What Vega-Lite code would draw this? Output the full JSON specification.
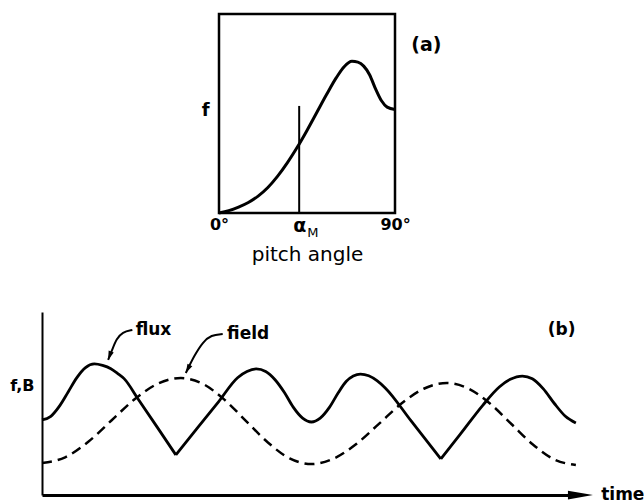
{
  "$schema": "https://vega.github.io/schema/vega-lite/v6.json",
  "padding": {"left": 9, "top": 12, "right": 2, "bottom": 5},
  "background": "white",
  "config": {"font": "DejaVu Sans", "axis": {"grid": false}},
  "center": true,
  "bounds": "flush",
  "spacing": 99,
  "datasets": {
    "pitch": [
      {"angle": 0, "f": 0}, {"angle": 5, "f": 0.012}, {"angle": 10, "f": 0.03}, {"angle": 15, "f": 0.053},
      {"angle": 20, "f": 0.085}, {"angle": 25, "f": 0.128}, {"angle": 30, "f": 0.185}, {"angle": 35, "f": 0.253},
      {"angle": 40, "f": 0.33}, {"angle": 45, "f": 0.415}, {"angle": 50, "f": 0.505}, {"angle": 55, "f": 0.595},
      {"angle": 60, "f": 0.68}, {"angle": 64, "f": 0.735}, {"angle": 68, "f": 0.762}, {"angle": 71, "f": 0.758},
      {"angle": 74, "f": 0.738}, {"angle": 77, "f": 0.695}, {"angle": 80, "f": 0.625}, {"angle": 83, "f": 0.565},
      {"angle": 86, "f": 0.532}, {"angle": 90, "f": 0.52}
    ],
    "alphaM": [{"angle": 41, "f": 0, "f2": 0.538}],
    "panelA": [{"angle": 106, "f": 0.844, "label": "(a)"}],
    "flux": [
      {"t": 0, "f": 0.41, "seg": 1}, {"t": 1.6, "f": 0.43, "seg": 1}, {"t": 3.2, "f": 0.487, "seg": 1},
      {"t": 4.75, "f": 0.563, "seg": 1}, {"t": 6.3, "f": 0.64, "seg": 1}, {"t": 7.9, "f": 0.696, "seg": 1},
      {"t": 9.5, "f": 0.716, "seg": 1}, {"t": 11, "f": 0.708, "seg": 1}, {"t": 12.5, "f": 0.69, "seg": 1},
      {"t": 13.7, "f": 0.665, "seg": 1}, {"t": 14.9, "f": 0.636, "seg": 1}, {"t": 17.5, "f": 0.522, "seg": 1},
      {"t": 21, "f": 0.367, "seg": 1}, {"t": 24.3, "f": 0.219, "seg": 1},
      {"t": 24.3, "f": 0.219, "seg": 2}, {"t": 28, "f": 0.358, "seg": 2}, {"t": 32, "f": 0.508, "seg": 2},
      {"t": 35.5, "f": 0.641, "seg": 2}, {"t": 37.2, "f": 0.675, "seg": 2}, {"t": 38.9, "f": 0.689, "seg": 2},
      {"t": 40.6, "f": 0.675, "seg": 2}, {"t": 42.3, "f": 0.63, "seg": 2}, {"t": 44, "f": 0.56, "seg": 2},
      {"t": 45.6, "f": 0.48, "seg": 2}, {"t": 47.3, "f": 0.42, "seg": 2}, {"t": 48.9, "f": 0.399, "seg": 2},
      {"t": 50.5, "f": 0.42, "seg": 2}, {"t": 52.2, "f": 0.48, "seg": 2}, {"t": 53.8, "f": 0.56, "seg": 2},
      {"t": 55.2, "f": 0.62, "seg": 2}, {"t": 56.5, "f": 0.65, "seg": 2}, {"t": 57.8, "f": 0.661, "seg": 2},
      {"t": 59.3, "f": 0.652, "seg": 2}, {"t": 60.8, "f": 0.625, "seg": 2}, {"t": 62.3, "f": 0.585, "seg": 2},
      {"t": 67, "f": 0.405, "seg": 2}, {"t": 72.4, "f": 0.197, "seg": 2},
      {"t": 72.4, "f": 0.197, "seg": 3}, {"t": 76, "f": 0.335, "seg": 3}, {"t": 80, "f": 0.49, "seg": 3},
      {"t": 83, "f": 0.59, "seg": 3}, {"t": 85, "f": 0.632, "seg": 3}, {"t": 87.2, "f": 0.65, "seg": 3},
      {"t": 89, "f": 0.635, "seg": 3}, {"t": 91, "f": 0.58, "seg": 3}, {"t": 93, "f": 0.5, "seg": 3},
      {"t": 95, "f": 0.43, "seg": 3}, {"t": 96.9, "f": 0.393, "seg": 3}
    ],
    "field": [
      {"t": 0, "f": 0.175}, {"t": 4.2, "f": 0.206}, {"t": 8.4, "f": 0.291}, {"t": 12.6, "f": 0.407},
      {"t": 16.8, "f": 0.523}, {"t": 21, "f": 0.608}, {"t": 25.2, "f": 0.639}, {"t": 29.15, "f": 0.608},
      {"t": 33.1, "f": 0.521}, {"t": 37.05, "f": 0.404}, {"t": 41, "f": 0.287}, {"t": 44.95, "f": 0.2},
      {"t": 48.9, "f": 0.169}, {"t": 53, "f": 0.2}, {"t": 57.1, "f": 0.28}, {"t": 61.2, "f": 0.39},
      {"t": 65.3, "f": 0.501}, {"t": 69.4, "f": 0.582}, {"t": 73.5, "f": 0.612}, {"t": 77.4, "f": 0.582},
      {"t": 81.3, "f": 0.5}, {"t": 85.2, "f": 0.388}, {"t": 89.1, "f": 0.276}, {"t": 93, "f": 0.194},
      {"t": 96.9, "f": 0.164}
    ],
    "arrows": [
      {"id": "flux", "t": 16.4, "f": 0.902}, {"id": "flux", "t": 14.6, "f": 0.891}, {"id": "flux", "t": 13.5, "f": 0.852},
      {"id": "flux", "t": 12.8, "f": 0.798}, {"id": "flux", "t": 12.0, "f": 0.738},
      {"id": "field", "t": 32.8, "f": 0.88}, {"id": "field", "t": 30.7, "f": 0.874}, {"id": "field", "t": 29.2, "f": 0.836},
      {"id": "field", "t": 27.7, "f": 0.765}, {"id": "field", "t": 26.1, "f": 0.667}
    ],
    "tips": [{"id": "flux", "t": 12.0, "f": 0.738}, {"id": "field", "t": 26.1, "f": 0.667}],
    "axisEnd": [{"t": 100, "f": 0}],
    "labelsB": [
      {"t": 17.0, "f": 0.902, "label": "flux"},
      {"t": 33.6, "f": 0.88, "label": "field"},
      {"t": 101.5, "f": 0, "label": "time"},
      {"t": 91.8, "f": 0.9, "label": "(b)"}
    ]
  },
  "vconcat": [
    {
      "width": 176,
      "height": 199,
      "view": {"stroke": "black", "strokeWidth": 2.5},
      "encoding": {
        "x": {
          "field": "angle", "type": "quantitative",
          "scale": {"domain": [0, 90], "nice": false},
          "axis": {
            "values": [0, 41, 90],
            "labelExpr": "datum.value == 0 ? '0°' : datum.value == 90 ? '90°' : 'α'",
            "ticks": false, "domain": false, "labelFlush": false,
            "labelColor": "black", "labelFontWeight": "bold",
            "labelFontSize": {"condition": {"test": "datum.value == 41", "value": 19}, "value": 16},
            "labelPadding": 3,
            "title": "pitch angle", "titleFontSize": 20, "titleFontWeight": "normal",
            "titleColor": "black", "titlePadding": 9
          }
        },
        "y": {
          "field": "f", "type": "quantitative",
          "scale": {"domain": [0, 1], "nice": false},
          "axis": {
            "labels": false, "ticks": false, "domain": false,
            "title": "f", "titleAngle": 0, "titleFontSize": 18, "titleFontWeight": "bold",
            "titleColor": "black", "titleAlign": "right", "titleBaseline": "middle",
            "titleX": -10, "titleY": 96
          }
        }
      },
      "layer": [
        {"data": {"name": "pitch"}, "mark": {"type": "line", "color": "black", "strokeWidth": 3, "interpolate": "monotone"}},
        {"data": {"name": "alphaM"}, "mark": {"type": "rule", "color": "black", "strokeWidth": 2}, "encoding": {"y2": {"field": "f2"}}},
        {"data": {"name": "alphaM"}, "mark": {"type": "text", "text": "M", "dx": 8, "dy": 20, "align": "left", "baseline": "middle", "fontSize": 13, "color": "black"}},
        {"data": {"name": "panelA"}, "mark": {"type": "text", "fontSize": 19, "fontWeight": "bold", "color": "black"}, "encoding": {"text": {"field": "label"}}}
      ]
    },
    {
      "width": 530,
      "height": 183,
      "view": {"stroke": null},
      "encoding": {
        "x": {
          "field": "t", "type": "quantitative",
          "scale": {"domain": [0, 96.2], "nice": false},
          "axis": {"labels": false, "ticks": false, "domain": true, "domainColor": "black", "domainWidth": 3, "title": null}
        },
        "y": {
          "field": "f", "type": "quantitative",
          "scale": {"domain": [0, 1], "nice": false},
          "axis": {
            "labels": false, "ticks": false, "domain": true, "domainColor": "black", "domainWidth": 2,
            "title": "f,B", "titleAngle": 0, "titleFontSize": 16, "titleFontWeight": "bold",
            "titleColor": "black", "titleAlign": "right", "titleBaseline": "middle",
            "titleX": -8, "titleY": 73
          }
        }
      },
      "layer": [
        {"data": {"name": "flux"}, "mark": {"type": "line", "color": "black", "strokeWidth": 2.8, "interpolate": "monotone"}, "encoding": {"detail": {"field": "seg"}}},
        {"data": {"name": "field"}, "mark": {"type": "line", "color": "black", "strokeWidth": 2.5, "strokeDash": [10, 6], "interpolate": "monotone"}},
        {"data": {"name": "arrows"}, "mark": {"type": "line", "color": "black", "strokeWidth": 2, "interpolate": "basis"}, "encoding": {"detail": {"field": "id"}}},
        {"data": {"name": "tips"}, "transform": [{"filter": "datum.id == 'flux'"}], "mark": {"type": "point", "shape": "M0,0L0.6,2L-0.6,2Z", "size": 81, "filled": true, "color": "black", "opacity": 1, "angle": 200}},
        {"data": {"name": "tips"}, "transform": [{"filter": "datum.id == 'field'"}], "mark": {"type": "point", "shape": "M0,0L0.6,2L-0.6,2Z", "size": 81, "filled": true, "color": "black", "opacity": 1, "angle": 207}},
        {"data": {"name": "axisEnd"}, "mark": {"type": "point", "shape": "M0,0L-2,-0.35L-2,0.35Z", "size": 625, "filled": true, "color": "black", "opacity": 1}},
        {"data": {"name": "labelsB"}, "mark": {"type": "text", "align": "left", "baseline": "middle", "fontSize": 17, "fontWeight": "bold", "color": "black"}, "encoding": {"text": {"field": "label"}}}
      ]
    }
  ]
}
